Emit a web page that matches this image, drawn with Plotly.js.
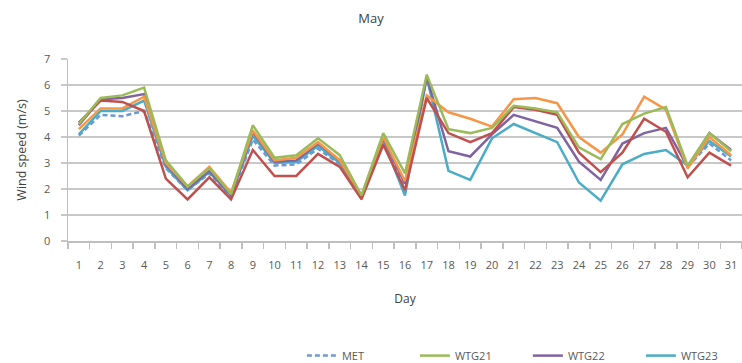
<!DOCTYPE html>
<html>
<head>
<meta charset="utf-8">
<script src="https://cdn.plot.ly/plotly-3.0.1.min.js"></script>
<style>html,body{margin:0;padding:0;background:#fff;}#chart{width:742px;height:363px;}</style>
</head>
<body>
<div id="chart"></div>
<script>
const days = Array.from({length: 31}, (_, i) => String(i + 1));

const met   = [4.05, 4.85, 4.8, 5.0, 2.8, 1.95, 2.6, 1.7, 3.9, 2.9, 2.95, 3.55, 2.95, 1.7, 3.8, 2.0,
               null, null, null, null, null, null, null, null, null, null, null, null, 2.85, 3.75, 3.1];
const wtg21 = [4.5, 5.5, 5.6, 5.9, 3.1, 2.1, 2.8, 1.8, 4.45, 3.2, 3.3, 3.95, 3.3, 1.75, 4.15, 2.6,
               6.4, 4.3, 4.15, 4.35, 5.2, 5.1, 4.95, 3.6, 3.15, 4.5, 4.9, 5.15, 2.9, 4.15, 3.45];
const wtg22 = [4.45, 5.45, 5.5, 5.65, 2.95, 2.0, 2.7, 1.75, 4.2, 3.05, 3.1, 3.75, 3.1, 1.7, 3.95, 2.2,
               6.3, 3.45, 3.25, 4.1, 4.85, 4.6, 4.35, 3.05, 2.35, 3.75, 4.15, 4.35, 2.85, 4.15, 3.5];
const wtg23 = [4.1, 5.0, 5.0, 5.4, 2.85, 1.95, 2.65, 1.75, 4.05, 3.0, 3.05, 3.65, 3.0, 1.7, 3.85, 1.75,
               6.3, 2.7, 2.35, 3.95, 4.5, 4.15, 3.8, 2.25, 1.55, 2.95, 3.35, 3.5, 2.9, 3.85, 3.25];
const wtg24 = [4.3, 5.1, 5.1, 5.55, 3.0, 2.1, 2.85, 1.85, 4.25, 3.1, 3.2, 3.8, 3.1, 1.75, 4.0, 2.3,
               5.6, 4.95, 4.7, 4.4, 5.45, 5.5, 5.3, 4.0, 3.4, 4.1, 5.55, 5.05, 2.8, 4.0, 3.3];
const wtg25 = [4.55, 5.4, 5.35, 5.0, 2.4, 1.6, 2.45, 1.6, 3.5, 2.5, 2.5, 3.35, 2.85, 1.6, 3.7, 1.95,
               5.5, 4.15, 3.8, 4.15, 5.15, 5.05, 4.85, 3.4, 2.65, 3.4, 4.7, 4.2, 2.45, 3.4, 2.9];

const W = 2.5;
const traces = [
  {name: 'MET',   y: met,   line: {color: '#6e98d4', width: W, dash: '5px,3px'}, legendrank: 1},
  {name: 'WTG23', y: wtg23, line: {color: '#4BACC6', width: W}, legendrank: 4},
  {name: 'WTG22', y: wtg22, line: {color: '#8064A2', width: W}, legendrank: 3},
  {name: 'WTG24', y: wtg24, line: {color: '#F79646', width: W}, showlegend: false},
  {name: 'WTG25', y: wtg25, line: {color: '#C0504D', width: W}, showlegend: false},
  {name: 'WTG21', y: wtg21, line: {color: '#9BBB59', width: W}, legendrank: 2}
].map(t => Object.assign({x: days, type: 'scatter', mode: 'lines', connectgaps: false, hoverinfo: 'skip'}, t));

const font = {family: 'Open Sans, DejaVu Sans, sans-serif', size: 11, color: '#595959'};

const layout = {
  width: 742, height: 363,
  margin: {l: 68, r: 0, t: 59, b: 122, autoexpand: false},
  paper_bgcolor: '#fff', plot_bgcolor: '#fff',
  font: font,
  showlegend: true,
  title: {text: 'May', x: 0.5, xref: 'container', y: 0.95, yref: 'container', yanchor: 'middle',
          font: {family: 'Open Sans, sans-serif', size: 13, color: '#404040'}},
  xaxis: {
    type: 'category', range: [-0.5, 30.5], tickson: 'boundaries', tickangle: 0,
    automargin: false,
    showgrid: false, showline: true, linecolor: '#bfbfbf', linewidth: 1.5,
    ticks: 'outside', ticklen: 6, tickcolor: '#bfbfbf', tickwidth: 1.5,
    ticklabelstandoff: 13,
    title: {text: 'Day', standoff: 24, font: {size: 12, color: '#404040'}},
    zeroline: false, fixedrange: true
  },
  yaxis: {
    range: [0, 7], dtick: 1, showgrid: true, gridcolor: '#c8c8c8', gridwidth: 1.5,
    automargin: false,
    showline: true, linecolor: '#bfbfbf', linewidth: 1.5,
    ticks: 'outside', ticklen: 6, tickcolor: '#c8c8c8', tickwidth: 1.5,
    ticklabelstandoff: 8,
    title: {text: 'Wind speed (m/s)', standoff: 14, font: {size: 12.5, color: '#404040'}},
    zeroline: false, fixedrange: true
  },
  legend: {
    orientation: 'h', x: 0.347, xanchor: 'left', y: -0.55, yanchor: 'top',
    entrywidth: 68, entrywidthmode: 'pixels', font: {size: 11, color: '#595959'},
    bgcolor: 'rgba(0,0,0,0)', traceorder: 'normal'
  }
};

Plotly.newPlot('chart', traces, layout, {staticPlot: true, displayModeBar: false});
</script>
</body>
</html>
